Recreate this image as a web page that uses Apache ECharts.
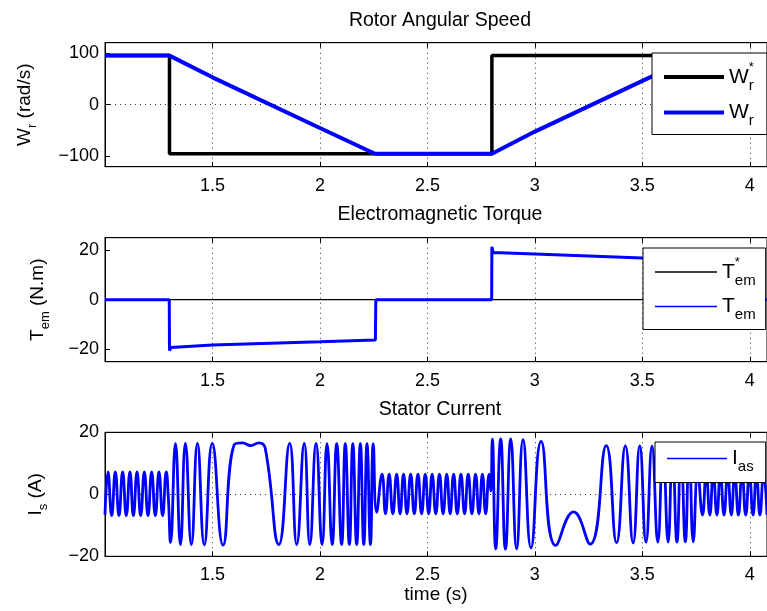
<!DOCTYPE html>
<html><head><meta charset="utf-8">
<script src="https://cdn.jsdelivr.net/npm/echarts@6/dist/echarts.min.js"></script>
<style>html,body{margin:0;padding:0;background:#fff}#c{width:767px;height:611px}</style>
</head><body><div id="c"></div>
<script>
// ---------- data ----------
const xMin = 1, xMax = 4.08, xStep = 0.5;

const titles = ['Rotor Angular Speed', 'Electromagnetic Torque', 'Stator Current'];
const xAxisName = 'time (s)';

const speedYTicks = [-100, 0, 100];
const torqueYTicks = [-20, 0, 20];
const currentYTicks = [-20, 0, 20];

const speedRefT = [1.0, 1.3, 1.3, 2.8, 2.8, 4.08];
const speedRef  = [95, 95, -95, -95, 95, 95];

const speedT = [1.0, 1.3, 1.5, 2.0, 2.256, 2.8, 3.0, 3.5, 3.755, 4.08];
const speed  = [95, 95, 53, -45, -95, -95, -52, 46, 95, 95];

const torqueRefT = [1.0, 4.08];
const torqueRef  = [0, 0];

const torqueT = [1.0, 1.299, 1.300, 1.306, 1.5, 2.0, 2.258, 2.260, 2.799, 2.800, 2.806, 3.0, 3.5, 3.753, 3.755, 4.08];
const torque  = [0, 0, -20.5, -19.3, -18.3, -17.0, -16.2, 0, 0, 21.3, 19.0, 18.4, 16.8, 16.2, 0, 0];

// stator current: extrema (peaks / troughs)
const currentT = [
  1.000, 1.014, 1.031, 1.048, 1.065, 1.082, 1.099, 1.116, 1.132, 1.149, 1.166, 1.183, 1.200, 1.217, 1.234, 1.251, 1.268, 1.285, 1.295, 1.305,
  1.328, 1.351, 1.374, 1.402, 1.430, 1.462, 1.499, 1.549, 1.601, 1.639, 1.678, 1.716, 1.745, 1.809,
  1.859, 1.892, 1.927, 1.953, 1.982, 2.010, 2.033, 2.057, 2.078, 2.101, 2.118, 2.137, 2.153, 2.171, 2.188, 2.204, 2.219, 2.235, 2.248, 2.264,
  2.289, 2.305, 2.322, 2.339, 2.357, 2.373, 2.389, 2.405, 2.422, 2.439, 2.456, 2.473, 2.490, 2.506, 2.522, 2.539, 2.556, 2.573, 2.590, 2.606,
  2.622, 2.639, 2.656, 2.673, 2.690, 2.707, 2.724, 2.740, 2.756, 2.771, 2.787, 2.795,
  2.802, 2.818, 2.841, 2.863, 2.888, 2.915, 2.945, 2.982, 3.029, 3.097, 3.180, 3.257, 3.332, 3.380, 3.421, 3.457, 3.488, 3.517, 3.545, 3.572,
  3.596, 3.620, 3.640, 3.661, 3.680, 3.700, 3.718, 3.737, 3.758,
  3.780, 3.797, 3.814, 3.830, 3.847, 3.863, 3.880, 3.897, 3.914, 3.930, 3.947, 3.964, 3.981, 3.998, 4.015, 4.031, 4.047, 4.064, 4.080
];
const currentI = [
  -6.6, 7.2, -6.9, 7.2, -6.9, 7.2, -6.9, 7.2, -6.9, 7.2, -6.9, 7.2, -6.9, 7.2, -6.9, 7.2, -6.9, 7.2, -1.5, -15.5,
  16.3, -16.2, 16.4, -16.2, 16.4, -16.3, 16.4, -16.4, 16.0, 16.6, 15.7, 16.6, 15.0, -16.2,
  16.4, -16.2, 16.4, -16.2, 16.4, -16.2, 16.3, -16.2, 16.3, -16.2, 16.3, -16.2, 16.3, -16.2, 16.3, -16.2, 16.3, -16.2, 16.3, -5.8,
  6.5, -6.3, 6.5, -6.3, 6.5, -6.3, 6.5, -6.3, 6.5, -6.3, 6.5, -6.3, 6.5, -6.3, 6.5, -6.3, 6.5, -6.3, 6.5, -6.3,
  6.5, -6.3, 6.5, -6.3, 6.5, -6.3, 6.5, -6.3, 6.5, -6.3, 6.5, 1.0,
  17.8, -17.6, 17.9, -17.7, 17.9, -17.6, 17.6, -17.3, 17.1, -16.5, -5.7, -16.1, 15.7, -15.6, 15.6, -15.7, 15.6, -15.4, 15.5, -15.4,
  15.5, -15.4, 15.5, -15.4, 15.5, -15.3, 15.4, -15.3, 7.0,
  -6.7, 7.0, -6.7, 7.0, -6.7, 7.0, -6.7, 7.0, -6.7, 7.0, -6.7, 7.0, -6.7, 7.0, -6.7, 7.0, -6.7, 7.0, -6.7
];

// ---------- chart ----------
const FONT = '"Liberation Sans", Arial, Helvetica, sans-serif';
const zip = (a, b) => a.map((v, i) => [v, b[i]]);
const fmtNum = v => (v < 0 ? '\u2212' + (-v) : String(v));
const DOT = { color: '#333', width: 1, type: [1, 4] };
const NONE = 'rgba(0,0,0,0)';

const gridTops = [42.7, 237.7, 432.3];
const gridH = 124;
const plotW = (xMax - xMin) * 216.4;

const grids = gridTops.map(t => ({
  left: 105, top: t, width: plotW, height: gridH,
  show: true, borderColor: '#000', borderWidth: 1, backgroundColor: '#fff'
}));

const xAxes = [];
[0, 1, 2].forEach(g => {
  xAxes.push({
    type: 'value', gridIndex: g, min: xMin, max: xMax, interval: xStep,
    name: g === 2 ? xAxisName : '', nameLocation: 'middle', nameGap: 28,
    nameTextStyle: { fontFamily: FONT, fontSize: 19, color: '#000' },
    axisLine: { show: true, onZero: false, lineStyle: { color: '#000', width: 1 } },
    axisTick: { show: true, inside: true, length: 5, lineStyle: { color: '#000' } },
    axisLabel: { showMinLabel: false, showMaxLabel: false, fontFamily: FONT, fontSize: 18, color: '#000', margin: 10 },
    splitLine: { show: true, lineStyle: DOT }
  });
});
[0, 1, 2].forEach(g => {
  xAxes.push({
    type: 'value', gridIndex: g, position: 'top', min: xMin, max: xMax, interval: xStep,
    axisLine: { show: true, onZero: false, lineStyle: { color: '#000', width: 1 } },
    axisTick: { show: true, inside: true, length: 5, lineStyle: { color: '#000' } },
    axisLabel: { show: false }, splitLine: { show: false }
  });
});

const nameRich = {
  m: { fontFamily: FONT, fontSize: 19, lineHeight: 28, color: '#000' },
  sub: { fontFamily: FONT, fontSize: 13, lineHeight: 13, verticalAlign: 'bottom', color: '#000' }
};

function yAxis(g, min, max, step, labels, cycle, name, gap) {
  return {
    type: 'value', gridIndex: g, min: min, max: max, interval: step,
    name: name, nameLocation: 'middle', nameRotate: 90, nameGap: gap,
    nameTextStyle: { fontFamily: FONT, fontSize: 19, color: '#000', rich: nameRich },
    axisLine: { show: true, onZero: false, lineStyle: { color: '#000', width: 1 } },
    axisTick: { show: true, inside: true, length: 5, customValues: labels, lineStyle: { color: '#000' } },
    axisLabel: {
      interval: 0, fontFamily: FONT, fontSize: 18, color: '#000', margin: 6,
      formatter: v => (labels.indexOf(v) >= 0 ? fmtNum(v) : '')
    },
    splitLine: { show: true, interval: 0, lineStyle: Object.assign({}, DOT, { color: cycle }) }
  };
}

const yAxes = [
  yAxis(0, -120, 120, 20, speedYTicks, [NONE, '#333', NONE, NONE, NONE], '{m|W}{sub|r}{m| (rad/s)}', 66),
  yAxis(1, -25, 25, 5, torqueYTicks, [NONE, '#333', NONE, NONE], '{m|T}{sub|em}{m| (N.m)}', 53),
  yAxis(2, -20, 20, 20, currentYTicks, ['#333'], '{m|I}{sub|s}{m| (A)}', 55)
];

const legendLabel = {
  'Wr*': '{m|W}{sup|*}{sub|r}', 'Wr': '{m|W}{sub|r}',
  'Tem*': '{m|T}{sup|*}{sub|em}', 'Tem': '{m|T}{sub|em}',
  'Ias': '{m|I}{sub|as}'
};
const legendRich = {
  m: { fontFamily: FONT, fontSize: 21, lineHeight: 32, color: '#000' },
  sup: { fontFamily: FONT, fontSize: 13, lineHeight: 13, verticalAlign: 'top', width: 0, color: '#000' },
  sub: { fontFamily: FONT, fontSize: 15, lineHeight: 15, verticalAlign: 'bottom', color: '#000' }
};
function legend(names, left, top, pad, gap, iconW, iconH) {
  return {
    data: names.map(n => ({ name: n, icon: 'rect' })), orient: 'vertical', left: left, top: top,
    padding: pad, itemGap: gap, itemWidth: iconW, itemHeight: iconH,
    borderColor: '#000', borderWidth: 1, borderRadius: 0, backgroundColor: '#fff',
    selectedMode: false, formatter: n => legendLabel[n],
    textStyle: { fontFamily: FONT, fontSize: 21, color: '#000', rich: legendRich }
  };
}

const line = (name, xi, data, color, width, extra) => Object.assign({
  name: name, type: 'line', xAxisIndex: xi, yAxisIndex: xi, data: data,
  symbol: 'none', showSymbol: false, color: color, itemStyle: { color: color },
  lineStyle: { color: color, width: width }, animation: false
}, extra || {});

const option = {
  animation: false,
  backgroundColor: '#fff',
  title: titles.map((t, i) => ({
    text: t, left: 440, top: [10.5, 205, 400][i], textAlign: 'center', padding: 0,
    textStyle: { fontFamily: FONT, fontSize: 19.5, fontWeight: 'normal', color: '#000' }
  })),
  grid: grids,
  xAxis: xAxes,
  yAxis: yAxes,
  legend: [
    legend(['Wr*', 'Wr'], 652, 53, [8, 13, 6, 12], 9, 60, 4),
    legend(['Tem*', 'Tem'], 643, 248, [8, 10, 7, 12], 8, 62, 1.5),
    legend(['Ias'], 655, 442, [6, 12, 8, 12], 5, 60, 1.5)
  ],
  series: [
    line('Wr*', 0, zip(speedRefT, speedRef), '#000000', 3.5, { z: 2 }),
    line('Wr', 0, zip(speedT, speed), '#0000ff', 4, { z: 3 }),
    line('Tem*', 1, zip(torqueRefT, torqueRef), '#000000', 1.2, { z: 2 }),
    line('Tem', 1, zip(torqueT, torque), '#0000ff', 3, { z: 3 }),
    line('Ias', 2, zip(currentT, currentI), '#0000ff', 2.8, { z: 3, smooth: 0.5 })
  ]
};

const chart = echarts.init(document.getElementById('c'), null, { renderer: 'canvas' });
chart.setOption(option);
</script>
</body></html>
